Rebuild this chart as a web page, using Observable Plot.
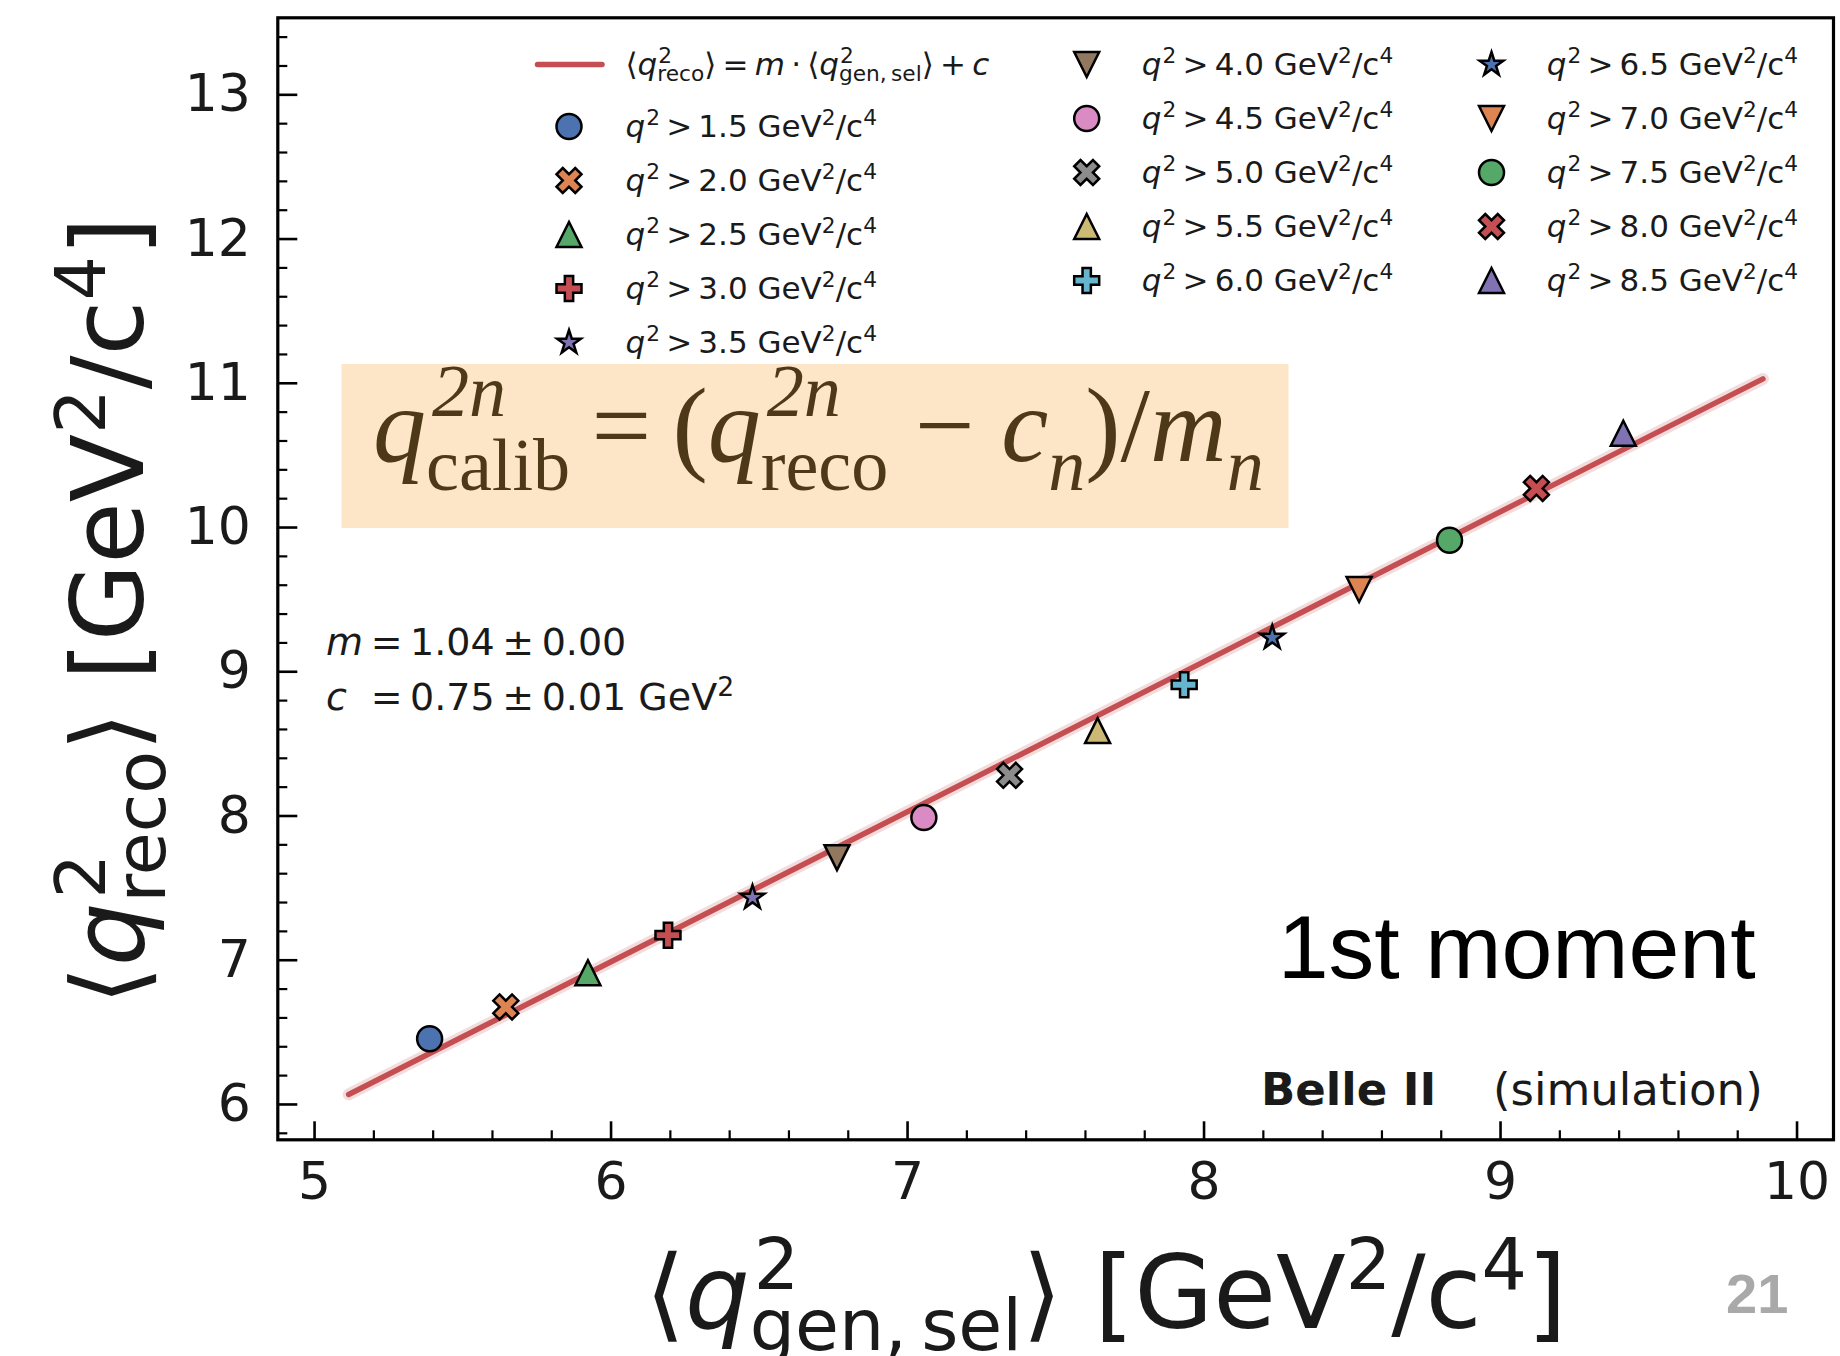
<!DOCTYPE html>
<html>
<head>
<meta charset="utf-8">
<script src="https://cdn.jsdelivr.net/npm/d3@7"></script>
<script src="https://cdn.jsdelivr.net/npm/@observablehq/plot@0.6"></script>
<style>
  html, body { margin: 0; padding: 0; background: #ffffff; overflow: hidden; }
  #chart { position: relative; width: 1840px; height: 1356px; }
  #chart svg text { white-space: pre; }
</style>
</head>
<body>
<div id="chart"></div>
<script>
// Lower q² thresholds of the selections [GeV²/c⁴]
const cuts = [1.5, 2.0, 2.5, 3.0, 3.5, 4.0, 4.5, 5.0, 5.5, 6.0, 6.5, 7.0, 7.5, 8.0, 8.5];
// Mean generated q² of the selected events [GeV²/c⁴]
const genMean = [5.388, 5.645, 5.922, 6.192, 6.477, 6.762, 7.055, 7.344, 7.641, 7.933, 8.230, 8.523, 8.828, 9.121, 9.414];
// Mean reconstructed q² [GeV²/c⁴]
const recoMean = [6.456, 6.676, 6.913, 7.174, 7.434, 7.711, 7.989, 8.282, 8.592, 8.910, 9.236, 9.570, 9.912, 10.271, 10.654];
// Marker style per selection (matplotlib-like cycle)
const markerShapes = ["circle", "xFilled", "triangleUp", "plusFilled", "star", "triangleDown",
                      "circle", "xFilled", "triangleUp", "plusFilled", "star", "triangleDown",
                      "circle", "xFilled", "triangleUp"];
const markerColors = ["#4c72b0", "#dd8452", "#55a868", "#c44e52", "#8172b3", "#937860",
                      "#da8bc3", "#8c8c8c", "#ccb974", "#64b5cd", "#4c72b0", "#dd8452",
                      "#55a868", "#c44e52", "#8172b3"];
// Linear calibration fit  <q²_reco> = m <q²_gen,sel> + c
const fitSlope = 1.04;
const fitOffset = 0.75;
const fitSlopeErr = 0.00;
const fitOffsetErr = 0.01;
const fitRange = [5.115, 9.885];
// Axis ticks
const xMajor = [5, 6, 7, 8, 9, 10];
const xMinor = [5.2, 5.4, 5.6, 5.8, 6.2, 6.4, 6.6, 6.8, 7.2, 7.4, 7.6, 7.8, 8.2, 8.4, 8.6, 8.8, 9.2, 9.4, 9.6, 9.8];
const yMajor = [6, 7, 8, 9, 10, 11, 12, 13];
const yMinor = [5.8, 6.2, 6.4, 6.6, 6.8, 7.2, 7.4, 7.6, 7.8, 8.2, 8.4, 8.6, 8.8, 9.2, 9.4, 9.6, 9.8,
                10.2, 10.4, 10.6, 10.8, 11.2, 11.4, 11.6, 11.8, 12.2, 12.4, 12.6, 12.8, 13.2, 13.4];
const xDomain = [4.876, 10.123];
const yDomain = [5.755, 13.534];

// ---- layout ----
const W = 1840, H = 1356;
const M = {left: 277.3, right: 7, top: 17.3, bottom: 216.7};
const FW = W - M.left - M.right, FH = H - M.top - M.bottom;
const INK = "#1a1a1a";
const FIT_RED = "#c44e52";
const MARKER_R = 12.5;

// matplotlib-style filled markers, scaled so that the shape spans ±r
function polygon(pts) {
  return {
    draw(ctx, size) {
      const r = Math.sqrt(size / Math.PI);
      ctx.moveTo(pts[0][0] * r, pts[0][1] * r);
      for (let i = 1; i < pts.length; ++i) ctx.lineTo(pts[i][0] * r, pts[i][1] * r);
      ctx.closePath();
    }
  };
}
const starPts = d3.range(10).map(i => {
  const a = -Math.PI / 2 + i * Math.PI / 5, rr = i % 2 ? 0.381966 : 1;
  return [rr * Math.cos(a), rr * Math.sin(a)];
});
const SYM = {
  circle: {draw(ctx, size) { const r = Math.sqrt(size / Math.PI); ctx.moveTo(r, 0); ctx.arc(0, 0, r, 0, 2 * Math.PI); }},
  xFilled: polygon([[-1,-2],[0,-1],[1,-2],[2,-1],[1,0],[2,1],[1,2],[0,1],[-1,2],[-2,1],[-1,0],[-2,-1]].map(([a, b]) => [a / 2, b / 2])),
  triangleUp: polygon([[0,-1],[-1,1],[1,1]]),
  plusFilled: polygon([[-1,-3],[1,-3],[1,-1],[3,-1],[3,1],[1,1],[1,3],[-1,3],[-1,1],[-3,1],[-3,-1],[-1,-1]].map(([a, b]) => [a / 3, b / 3])),
  star: polygon(starPts),
  triangleDown: polygon([[0,1],[-1,-1],[1,-1]])
};

const points = genMean.map((g, i) => ({gen: g, reco: recoMean[i], cut: cuts[i], shape: markerShapes[i], color: markerColors[i]}));
const fitLine = fitRange.map(x => ({x, y: fitSlope * x + fitOffset}));

const plot = Plot.plot({
  width: W, height: H,
  marginLeft: M.left, marginRight: M.right, marginTop: M.top, marginBottom: M.bottom,
  x: {domain: xDomain}, y: {domain: yDomain},
  color: {type: "identity"},
  style: {background: "#ffffff", fontFamily: "DejaVu Sans", color: INK, overflow: "visible"},
  marks: [
    // fit with its faint uncertainty band
    Plot.line(fitLine, {x: "x", y: "y", stroke: FIT_RED, strokeOpacity: 0.2, strokeWidth: 12, strokeLinecap: "round"}),
    Plot.line(fitLine, {x: "x", y: "y", stroke: FIT_RED, strokeWidth: 5.5, strokeLinecap: "round"}),
    // one dot mark per marker shape
    ...Object.keys(SYM).map(shape => Plot.dot(points.filter(p => p.shape === shape), {
      x: "gen", y: "reco", symbol: SYM[shape], r: MARKER_R,
      fill: "color", stroke: "#000000", strokeWidth: 2.5
    })),
    // inward ticks on the left and bottom spines
    Plot.tickX(xMajor, {x: d => d, insetTop: FH - 18, stroke: "#000", strokeWidth: 2.6}),
    Plot.tickX(xMinor, {x: d => d, insetTop: FH - 9, stroke: "#000", strokeWidth: 2.2}),
    Plot.tickY(yMajor, {y: d => d, insetRight: FW - 20, stroke: "#000", strokeWidth: 2.6}),
    Plot.tickY(yMinor, {y: d => d, insetRight: FW - 10, stroke: "#000", strokeWidth: 2.2}),
    Plot.axisX(xMajor, {tickSize: 0, tickPadding: 22, fontSize: 52, tickFormat: d => String(d), label: null, fill: INK}),
    Plot.axisY(yMajor, {tickSize: 0, tickPadding: 27, fontSize: 52, tickFormat: d => String(d), label: null, fill: INK}),
    Plot.frame({stroke: "#000", strokeWidth: 3.2})
  ]
});
document.getElementById("chart").appendChild(plot);

const svg = d3.select(plot);
const overlay = svg.append("g").attr("text-anchor", "start");

// Lays out a run of text with super/subscripts; returns the start offset of every run.
function mathText(parent, x, y, runs, opt) {
  const F = opt.size;
  const g = parent.append("g")
    .attr("text-anchor", "start")
    .attr("font-family", opt.family || "DejaVu Sans")
    .attr("fill", opt.color || INK);
  const put = (t, px, py, size, italic, weight) => {
    const el = g.append("text").attr("x", px).attr("y", py).attr("font-size", size)
      .attr("font-style", italic ? "italic" : null).attr("font-weight", weight || null).text(t);
    return el.node().getComputedTextLength();
  };
  const supShift = opt.supShift ?? 0.38, subShift = opt.subShift ?? 0.22, scr = opt.scriptScale ?? 0.7;
  let cx = 0;
  const starts = [];
  for (const r of runs) {
    if (r.at != null) cx = r.at;
    starts.push(cx);
    if (r.t) cx += put(r.t, cx, 0, F, r.it, r.bold);
    let w = 0;
    if (r.sup) w = Math.max(w, (r.supDx || 0) + put(r.sup, cx + (r.supDx || 0), -F * supShift, F * scr, r.supIt));
    if (r.sub) w = Math.max(w, put(r.sub, cx, F * subShift, F * scr, r.subIt));
    cx += w;
  }
  const shift = opt.anchor === "middle" ? -cx / 2 : opt.anchor === "end" ? -cx : 0;
  g.attr("transform", `translate(${x},${y})${opt.rotate ? ` rotate(${opt.rotate})` : ""} translate(${shift},0)`);
  return starts;
}

// axis titles
mathText(overlay, 1106, 1328, [
  {t: "⟨"}, {t: "q", it: true, sup: "2", sub: "gen,\u2009sel", supDx: 4},
  {t: "⟩ [GeV", sup: "2"}, {t: "/c", sup: "4"}, {t: "]"}
], {size: 102, anchor: "middle"});
mathText(overlay, 143, 611, [
  {t: "⟨"}, {t: "q", it: true, sup: "2", sub: "reco", supDx: 4},
  {t: "⟩ [GeV", sup: "2"}, {t: "/c", sup: "4"}, {t: "]"}
], {size: 100, anchor: "middle", rotate: -90});

// legend
const legend = overlay.append("g");
const LEG_F = 31;
const col1Rows = [64.5, 126.5, 180.5, 234.5, 288.5, 342.5];
const colRows = [64.5, 118.5, 172.5, 226.5, 280.5];
const columns = [
  {mx: 569, tx: 625.5, rows: col1Rows.slice(1), items: [0, 1, 2, 3, 4]},
  {mx: 1086.7, tx: 1141.8, rows: colRows, items: [5, 6, 7, 8, 9]},
  {mx: 1491.5, tx: 1546.7, rows: colRows, items: [10, 11, 12, 13, 14]}
];
legend.append("line").attr("x1", 537.5).attr("x2", 602).attr("y1", col1Rows[0]).attr("y2", col1Rows[0])
  .attr("stroke", FIT_RED).attr("stroke-width", 5.5).attr("stroke-linecap", "round");
mathText(legend, 625.5, col1Rows[0] + 10, [
  {t: "⟨"}, {t: "q", it: true, sup: "2", sub: "reco", supDx: 1}, {t: "⟩\u2009=\u2009"}, {t: "m", it: true},
  {t: "\u2009·\u2009⟨"}, {t: "q", it: true, sup: "2", sub: "gen,\u2009sel", supDx: 1}, {t: "⟩\u2009+\u2009"}, {t: "c", it: true}
], {size: LEG_F});
for (const col of columns) {
  col.items.forEach((i, k) => {
    const y = col.rows[k];
    legend.append("path")
      .attr("d", d3.symbol(SYM[markerShapes[i]], Math.PI * MARKER_R * MARKER_R)())
      .attr("transform", `translate(${col.mx},${y})`)
      .attr("fill", markerColors[i]).attr("stroke", "#000").attr("stroke-width", 2.5);
    mathText(legend, col.tx, y + 10, [
      {t: "q", it: true, sup: "2", supDx: 1},
      {t: `\u2009>\u2009${cuts[i].toFixed(1)} GeV`, sup: "2"}, {t: "/c", sup: "4"}
    ], {size: LEG_F});
  });
}

// fit parameters
const line1 = mathText(overlay, 326, 655, [
  {t: "m", it: true}, {t: "\u2009"}, {t: `=\u2009${fitSlope.toFixed(2)}\u2009±\u2009${fitSlopeErr.toFixed(2)}`}
], {size: 38});
mathText(overlay, 326, 710, [
  {t: "c", it: true}, {at: line1[2], t: `=\u2009${fitOffset.toFixed(2)}\u2009±\u2009${fitOffsetErr.toFixed(2)} GeV`, sup: "2"}
], {size: 38});

// experiment tag
overlay.append("text").attr("x", 1261).attr("y", 1105).attr("font-family", "DejaVu Sans").attr("font-weight", "bold")
  .attr("font-size", 45).attr("fill", INK).text("Belle II");
overlay.append("text").attr("x", 1493).attr("y", 1105).attr("font-family", "DejaVu Sans")
  .attr("font-size", 45).attr("fill", INK).text("(simulation)");

// calibration formula box
overlay.append("rect").attr("x", 341.5).attr("y", 364).attr("width", 947).attr("height", 164).attr("fill", "#fde6c8");
mathText(overlay, 373, 461, [
  {t: "q", it: true, sup: "2n", sub: "calib", supDx: 6},
  {t: "\u2009=\u2009("}, {t: "q", it: true, sup: "2n", sub: "reco", supDx: 6},
  {t: " − "}, {t: "c", it: true, sub: "n", subIt: true}, {t: ")/"}, {t: "m", it: true, sub: "n", subIt: true}
].map(r => ({...r, supIt: true})), {size: 106, family: "Liberation Serif", color: "#4d3817", supShift: 0.42, subShift: 0.27});

// slide annotations
overlay.append("text").attr("x", 1277.7).attr("y", 978).attr("font-family", "Liberation Sans")
  .attr("font-size", 89).attr("fill", "#000").attr("textLength", 478).attr("lengthAdjust", "spacingAndGlyphs")
  .text("1st moment");
overlay.append("text").attr("x", 1726).attr("y", 1313).attr("font-family", "Liberation Sans").attr("font-weight", "bold")
  .attr("font-size", 56).attr("fill", "#a9a9a9").text("21");
</script>
</body>
</html>
